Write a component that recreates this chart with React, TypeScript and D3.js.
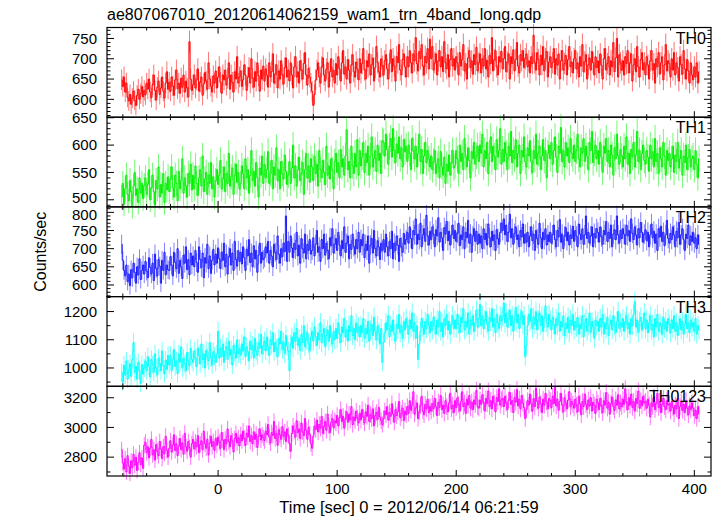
import React from "react";
import * as d3 from "d3";

// time of the first 1-s bin (sec); each following value is the next bin
const T_START = -81;

const TH0 = [
  648, 632, 655, 618, 640, 605, 596, 612, 588, 603, 620, 598, 585, 610, 625, 600, 614, 632, 606, 622,
  611, 640, 625, 650, 618, 604, 636, 660, 622, 598, 630, 645, 612, 628, 655, 620, 603, 640, 668, 625,
  642, 620, 655, 633, 610, 648, 672, 626, 640, 615, 652, 630, 660, 618, 645, 628, 606, 742, 650, 622,
  636, 660, 628, 648, 675, 620, 642, 655, 610, 638, 666, 645, 625, 690, 650, 632, 618, 658, 640, 670,
  628, 655, 680, 642, 615, 660, 648, 672, 635, 652, 690, 625, 660, 642, 618, 668, 650, 705, 640, 655,
  670, 632, 648, 685, 660, 622, 655, 678, 640, 700, 652, 630, 668, 645, 690, 658, 620, 672, 650, 682,
  645, 675, 660, 630, 690, 655, 668, 712, 640, 662, 685, 628, 670, 650, 695, 660, 638, 678, 702, 655,
  672, 645, 690, 660, 628, 680, 705, 655, 668, 640, 695, 672, 650, 688, 715, 660, 635, 676, 655, 640,
  620, 585, 612, 648, 672, 690, 655, 640, 680, 702, 660, 645, 675, 690, 630, 668, 700, 655, 672, 640,
  688, 660, 705, 675, 645, 690, 720, 662, 680, 650, 698, 672, 640, 685, 710, 668, 655, 692, 675, 648,
  700, 665, 688, 725, 672, 650, 695, 680, 712, 660, 685, 702, 645, 678, 730, 690, 668, 655, 700, 682,
  660, 695, 710, 675, 650, 688, 722, 668, 700, 682, 645, 705, 690, 735, 672, 660, 698, 712, 680, 655,
  705, 680, 720, 690, 665, 712, 695, 752, 688, 670, 718, 700, 735, 682, 660, 706, 690, 725, 675, 748,
  700, 730, 672, 690, 712, 660, 695, 720, 680, 705, 668, 742, 690, 675, 710, 655, 698, 725, 682, 700,
  672, 705, 690, 660, 715, 682, 698, 735, 670, 688, 650, 702, 720, 678, 695, 662, 710, 686, 728, 670,
  690, 712, 665, 700, 682, 725, 675, 696, 655, 708, 688, 752, 670, 698, 720, 680, 660, 705, 692, 718,
  675, 700, 730, 668, 692, 712, 650, 705, 688, 722, 670, 698, 740, 682, 665, 710, 695, 720, 678, 700,
  712, 680, 695, 665, 705, 688, 758, 690, 672, 715, 698, 660, 708, 685, 730, 670, 700, 718, 655, 692,
  705, 678, 690, 725, 662, 700, 684, 712, 650, 695, 720, 672, 688, 708, 660, 698, 730, 680, 692, 665,
  700, 720, 675, 690, 655, 705, 682, 735, 668, 692, 710, 650, 685, 702, 672, 718, 690, 660, 705, 678,
  695, 665, 712, 684, 650, 700, 725, 672, 688, 705, 660, 695, 680, 740, 668, 702, 750, 655, 710, 690,
  672, 695, 660, 705, 688, 720, 665, 690, 712, 645, 685, 700, 668, 730, 680, 655, 698, 715, 672, 690,
  660, 705, 685, 650, 695, 720, 672, 688, 640, 700, 680, 715, 662, 690, 705, 648, 685, 735, 670, 695,
  688, 655, 700, 672, 715, 660, 690, 678, 645, 705, 685, 662, 720, 675, 650, 698, 670, 640, 690, 660,
  648, 680, 655, 690, 640, 668,
];

const TH1 = [
  505, 530, 492, 520, 545, 510, 498, 535, 515, 488, 525, 550, 508, 520, 495, 540, 512, 530, 502, 526,
  540, 510, 528, 555, 500, 522, 545, 515, 490, 535, 520, 560, 505, 528, 512, 548, 495, 530, 518, 542,
  515, 538, 560, 522, 505, 545, 530, 498, 552, 520, 535, 575, 512, 540, 525, 505, 548, 530, 565, 518,
  545, 520, 562, 530, 508, 540, 555, 525, 580, 515, 538, 550, 510, 545, 530, 568, 520, 542, 505, 535,
  555, 528, 545, 572, 520, 538, 560, 515, 548, 530, 585, 525, 542, 558, 510, 545, 565, 532, 550, 520,
  530, 562, 548, 520, 575, 540, 555, 512, 545, 590, 535, 552, 525, 568, 540, 505, 558, 545, 580, 530,
  565, 540, 555, 588, 530, 548, 572, 520, 560, 545, 595, 535, 555, 520, 570, 548, 538, 582, 552, 528,
  545, 570, 530, 558, 600, 540, 562, 525, 555, 578, 535, 548, 568, 510, 555, 585, 540, 562, 532, 575,
  560, 535, 580, 548, 565, 525, 590, 555, 540, 572, 550, 528, 598, 545, 562, 538, 575, 555, 520, 570,
  585, 550, 568, 540, 592, 560, 575, 545, 580, 628, 555, 570, 540, 598, 562, 548, 585, 560, 610, 545,
  590, 562, 578, 605, 550, 585, 568, 598, 545, 580, 615, 560, 575, 590, 552, 600, 572, 585, 548, 608,
  605, 580, 620, 592, 565, 598, 612, 578, 630, 590, 568, 602, 585, 615, 575, 595, 560, 610, 588, 598,
  570, 600, 585, 555, 612, 590, 575, 598, 560, 585, 620, 570, 592, 548, 580, 605, 568, 590, 575, 560,
  580, 555, 570, 590, 548, 565, 575, 540, 588, 560, 545, 578, 530, 565, 552, 582, 545, 568, 590, 558,
  562, 590, 575, 548, 600, 570, 585, 555, 612, 578, 560, 595, 572, 540, 588, 575, 605, 565, 580, 598,
  570, 600, 585, 620, 560, 590, 575, 605, 548, 585, 615, 570, 598, 580, 555, 610, 578, 590, 630, 565,
  592, 570, 605, 585, 555, 598, 580, 625, 568, 590, 575, 610, 560, 585, 600, 548, 590, 578, 615, 570,
  560, 595, 580, 608, 570, 550, 590, 575, 620, 565, 585, 598, 555, 580, 610, 572, 590, 540, 585, 600,
  575, 605, 565, 590, 615, 578, 550, 598, 585, 632, 570, 590, 560, 605, 580, 595, 568, 612, 585, 575,
  600, 570, 590, 620, 575, 560, 595, 585, 612, 570, 598, 580, 555, 605, 590, 625, 568, 585, 600, 575,
  590, 565, 605, 578, 550, 598, 585, 612, 570, 590, 560, 600, 582, 545, 595, 575, 620, 580, 565, 592,
  580, 560, 598, 575, 615, 565, 585, 548, 592, 578, 605, 560, 582, 625, 570, 590, 555, 585, 600, 572,
  565, 590, 578, 552, 600, 575, 588, 560, 612, 570, 585, 548, 595, 575, 560, 605, 580, 545, 590, 572,
  585, 560, 575, 598, 550, 582, 570, 605, 558, 575, 590, 545, 580, 568, 600, 555, 578, 592, 560, 575,
  580, 555, 590, 565, 540, 575,
];

const TH2 = [
  712, 668, 640, 625, 655, 610, 630, 598, 642, 620, 660, 635, 605, 650, 628, 672, 615, 640, 655, 630,
  665, 638, 620, 675, 648, 630, 660, 612, 685, 645, 625, 670, 652, 605, 668, 640, 690, 628, 655, 642,
  640, 678, 655, 625, 690, 662, 645, 700, 632, 668, 650, 618, 682, 660, 705, 642, 670, 628, 688, 655,
  680, 650, 695, 662, 635, 705, 670, 648, 688, 620, 675, 660, 712, 645, 680, 632, 668, 698, 655, 685,
  660, 702, 672, 645, 690, 668, 715, 650, 685, 630, 678, 700, 655, 688, 640, 720, 670, 652, 695, 665,
  690, 658, 705, 675, 640, 698, 680, 725, 662, 688, 650, 708, 672, 695, 635, 682, 715, 660, 690, 670,
  675, 705, 688, 720, 660, 695, 680, 650, 712, 690, 670, 735, 685, 660, 700, 678, 715, 692, 790, 665,
  720, 690, 735, 702, 675, 715, 698, 745, 680, 710, 660, 728, 700, 688, 740, 672, 712, 695, 725, 685,
  695, 730, 680, 712, 750, 690, 705, 665, 725, 700, 740, 682, 715, 695, 672, 730, 708, 755, 688, 712,
  728, 695, 745, 710, 680, 722, 700, 760, 690, 715, 735, 672, 712, 698, 740, 705, 685, 725, 700, 745,
  690, 725, 708, 740, 675, 712, 695, 735, 660, 710, 728, 688, 750, 700, 680, 722, 705, 670, 715, 695,
  725, 690, 740, 705, 680, 720, 700, 748, 672, 715, 695, 735, 710, 665, 728, 705, 690, 742, 712, 725,
  745, 715, 760, 728, 700, 750, 738, 782, 712, 740, 725, 770, 705, 738, 755, 720, 792, 735, 710, 748,
  725, 760, 740, 705, 752, 735, 785, 718, 745, 730, 695, 758, 740, 775, 722, 748, 710, 738, 765, 728,
  750, 720, 742, 770, 708, 738, 725, 760, 700, 745, 730, 778, 715, 740, 690, 735, 755, 720, 748, 712,
  740, 715, 735, 700, 755, 725, 742, 710, 768, 730, 705, 748, 722, 738, 695, 752, 728, 712, 745, 770,
  750, 782, 738, 765, 720, 745, 795, 730, 755, 712, 742, 760, 725, 738, 705, 750, 732, 768, 715, 740,
  718, 745, 705, 735, 760, 722, 740, 695, 750, 728, 712, 770, 730, 700, 745, 725, 755, 710, 738, 720,
  745, 715, 738, 765, 725, 705, 750, 732, 780, 718, 740, 700, 735, 758, 722, 745, 710, 738, 728, 762,
  720, 750, 735, 705, 768, 740, 725, 755, 712, 738, 790, 728, 745, 715, 735, 760, 705, 742, 730, 755,
  745, 718, 760, 732, 712, 750, 738, 775, 720, 745, 728, 765, 705, 740, 752, 725, 790, 738, 715, 750,
  728, 755, 740, 712, 765, 735, 750, 720, 782, 742, 725, 760, 738, 710, 755, 730, 772, 745, 718, 740,
  752, 722, 745, 705, 738, 768, 730, 748, 715, 740, 695, 755, 732, 762, 720, 745, 708, 738, 778, 728,
  715, 742, 725, 760, 738, 705, 748, 730, 772, 712, 738, 755, 725, 695, 740, 728, 765, 710, 735, 720,
  745, 715, 730, 700, 738, 712,
];

const TH3 = [
  985, 950, 1010, 975, 1025, 960, 995, 1015, 970, 1030, 1090, 985, 1005, 960, 1020, 990, 945, 1012, 978, 1000,
  1025, 990, 1040, 1005, 968, 1030, 1012, 985, 1050, 1000, 975, 1035, 1015, 990, 1060, 1008, 980, 1028, 995, 1045,
  1010, 1045, 990, 1030, 1065, 1005, 1025, 980, 1050, 1020, 1075, 1000, 1035, 1015, 990, 1055, 1025, 1008, 1070, 1030,
  1020, 1060, 1035, 1005, 1070, 1045, 1015, 1085, 1030, 1050, 1000, 1062, 1040, 1025, 1090, 1035, 1010, 1058, 1042, 1020,
  1050, 1130, 1035, 1070, 1040, 1085, 1020, 1060, 1075, 1030, 1095, 1045, 1065, 1010, 1080, 1055, 1035, 1100, 1050, 1068,
  1045, 1085, 1060, 1110, 1040, 1075, 1058, 1025, 1095, 1065, 1080, 1035, 1105, 1060, 1045, 1090, 1070, 1120, 1050, 1078,
  1095, 1060, 1110, 1075, 1045, 1100, 1082, 1125, 1058, 1090, 1070, 1040, 1105, 1085, 1130, 1065, 1092, 1050, 1115, 1078,
  1060, 990, 1085, 1110, 1070, 1125, 1095, 1140, 1080, 1105, 1062, 1118, 1090, 1150, 1075, 1100, 1125, 1085, 1060, 1110,
  1130, 1095, 1145, 1110, 1080, 1125, 1100, 1160, 1090, 1120, 1140, 1075, 1115, 1135, 1095, 1150, 1108, 1085, 1128, 1100,
  1140, 1105, 1160, 1120, 1090, 1145, 1125, 1175, 1110, 1135, 1095, 1150, 1130, 1185, 1115, 1140, 1100, 1160, 1125, 1145,
  1110, 1150, 1125, 1175, 1105, 1140, 1120, 1165, 1095, 1135, 1155, 1115, 1180, 1130, 1100, 1150, 1125, 1085, 1140, 1020,
  1090, 1125, 1160, 1135, 1185, 1110, 1150, 1130, 1170, 1120, 1095, 1155, 1140, 1190, 1125, 1150, 1105, 1165, 1135, 1175,
  1150, 1120, 1170, 1140, 1195, 1130, 1160, 1105, 1150, 1030, 1085, 1130, 1175, 1145, 1120, 1165, 1140, 1190, 1150, 1125,
  1165, 1135, 1180, 1150, 1120, 1170, 1145, 1200, 1130, 1160, 1110, 1175, 1150, 1190, 1135, 1165, 1120, 1155, 1185, 1140,
  1170, 1140, 1190, 1155, 1125, 1180, 1160, 1210, 1135, 1165, 1145, 1195, 1120, 1170, 1150, 1185, 1130, 1160, 1205, 1145,
  1175, 1225, 1150, 1185, 1140, 1170, 1200, 1155, 1130, 1180, 1165, 1210, 1145, 1175, 1125, 1190, 1160, 1140, 1185, 1165,
  1180, 1230, 1160, 1195, 1145, 1175, 1205, 1150, 1185, 1130, 1170, 1215, 1160, 1190, 1140, 1175, 1200, 1155, 1185, 1040,
  1080, 1150, 1190, 1165, 1210, 1140, 1180, 1155, 1200, 1135, 1170, 1195, 1150, 1185, 1130, 1175, 1220, 1160, 1145, 1190,
  1170, 1135, 1180, 1155, 1120, 1175, 1150, 1195, 1130, 1165, 1145, 1185, 1115, 1160, 1140, 1180, 1125, 1170, 1150, 1190,
  1135, 1165, 1145, 1180, 1120, 1155, 1140, 1185, 1110, 1160, 1175, 1130, 1150, 1195, 1125, 1165, 1145, 1105, 1170, 1150,
  1165, 1130, 1175, 1145, 1190, 1120, 1160, 1140, 1180, 1115, 1155, 1170, 1135, 1185, 1150, 1125, 1165, 1200, 1140, 1160,
  1145, 1175, 1130, 1165, 1185, 1140, 1160, 1120, 1175, 1150, 1190, 1235, 1145, 1170, 1125, 1165, 1180, 1135, 1160, 1195,
  1140, 1170, 1125, 1160, 1185, 1135, 1155, 1110, 1175, 1145, 1190, 1130, 1160, 1150, 1120, 1180, 1140, 1165, 1130, 1175,
  1155, 1125, 1170, 1140, 1185, 1130, 1160, 1115, 1150, 1175, 1135, 1165, 1120, 1155, 1190, 1140, 1160, 1125, 1170, 1145,
  1160, 1130, 1175, 1120, 1150, 1135,
];

const TH0123 = [
  2850, 2760, 2720, 2790, 2700, 2810, 2740, 2690, 2775, 2730, 2820, 2745, 2800, 2710, 2765, 2830, 2750, 2795, 2725, 2880,
  2900, 2830, 2870, 2795, 2860, 2920, 2815, 2850, 2780, 2885, 2840, 2810, 2905, 2855, 2790, 2870, 2825, 2940, 2845, 2800,
  2860, 2910, 2835, 2880, 2950, 2845, 2890, 2810, 2875, 2925, 2850, 2895, 2820, 2960, 2870, 2840, 2905, 2865, 2800, 2890,
  2920, 2855, 2900, 2870, 2945, 2830, 2885, 2910, 2850, 2975, 2890, 2860, 2920, 2815, 2895, 2940, 2870, 2905, 2845, 2925,
  2880, 2935, 2900, 2860, 2965, 2915, 2850, 2920, 2890, 2990, 2905, 2870, 2945, 2910, 2835, 2925, 2960, 2895, 2930, 2875,
  2950, 2910, 2975, 2925, 2880, 2960, 2935, 3010, 2905, 2945, 2890, 2970, 2920, 2955, 2865, 2940, 2990, 2915, 2950, 2930,
  2910, 2975, 2950, 3020, 2935, 2895, 2965, 2945, 3040, 2925, 2960, 2880, 2985, 2950, 2920, 3005, 2940, 2970, 2905, 2990,
  2950, 2890, 2840, 2960, 3010, 2975, 2935, 3045, 2965, 2990, 2925, 3030, 2970, 2945, 3060, 2980, 2920, 3000, 2955, 2890,
  2860, 2940, 3010, 2985, 3050, 2970, 3020, 2995, 3075, 2960, 3005, 3040, 2980, 3090, 3010, 2965, 3035, 3060, 3000, 3045,
  3030, 3080, 3010, 3065, 3120, 3040, 3075, 2995, 3060, 3105, 3035, 3090, 3050, 3140, 3020, 3070, 3045, 3110, 3065, 3030,
  3095, 3050, 3120, 3070, 3030, 3105, 3075, 3150, 3040, 3085, 3060, 3125, 3010, 3080, 3100, 3055, 3135, 3070, 3045, 3020,
  3060, 3110, 3085, 3140, 3050, 3100, 3075, 3160, 3090, 3035, 3120, 3080, 3105, 3175, 3065, 3095, 3130, 3045, 3110, 3085,
  3140, 3095, 3180, 3115, 3150, 3240, 3090, 3130, 3165, 3060, 3105, 3145, 3210, 3110, 3085, 3155, 3125, 3190, 3100, 3140,
  3110, 3160, 3125, 3195, 3140, 3080, 3170, 3135, 3215, 3120, 3150, 3095, 3180, 3140, 3105, 3165, 3230, 3125, 3150, 3100,
  3180, 3135, 3200, 3155, 3110, 3175, 3240, 3140, 3165, 3095, 3190, 3150, 3215, 3130, 3170, 3120, 3185, 3155, 3250, 3140,
  3130, 3185, 3155, 3220, 3170, 3110, 3195, 3160, 3245, 3140, 3180, 3125, 3210, 3165, 3105, 3200, 3175, 3260, 3150, 3185,
  3195, 3140, 3210, 3165, 3120, 3185, 3235, 3155, 3180, 3100, 3200, 3170, 3255, 3145, 3190, 3125, 3215, 3165, 3135, 3060,
  3120, 3180, 3150, 3225, 3160, 3110, 3195, 3140, 3265, 3175, 3130, 3205, 3160, 3100, 3190, 3150, 3230, 3170, 3125, 3195,
  3180, 3135, 3210, 3160, 3270, 3145, 3190, 3115, 3175, 3230, 3150, 3105, 3200, 3165, 3125, 3185, 3240, 3140, 3175, 3155,
  3130, 3190, 3150, 3105, 3210, 3160, 3085, 3175, 3140, 3225, 3155, 3120, 3185, 3145, 3200, 3110, 3170, 3150, 3095, 3190,
  3165, 3120, 3195, 3145, 3100, 3180, 3150, 3235, 3130, 3170, 3090, 3160, 3205, 3140, 3115, 3185, 3150, 3220, 3125, 3165,
  3140, 3190, 3155, 3260, 3170, 3120, 3200, 3150, 3225, 3135, 3175, 3110, 3195, 3160, 3245, 3130, 3180, 3145, 3210, 3165,
  3175, 3130, 3190, 3150, 3070, 3165, 3140, 3205, 3120, 3160, 3230, 3135, 3175, 3100, 3155, 3195, 3140, 3120, 3180, 3150,
  3160, 3110, 3175, 3135, 3090, 3150, 3125, 3195, 3060, 3140, 3170, 3115, 3155, 3100, 3180, 3130, 3085, 3145, 3120, 3165,
  3130, 3080, 3115, 3060, 3140, 3090,
];

const SERIES_NAMES = ["TH0", "TH1", "TH2", "TH3", "TH0123"];
const SERIES_VALUES = [TH0, TH1, TH2, TH3, TH0123];
const SERIES_COLORS = ["#ff0000", "#00f000", "#1a1aff", "#00ffff", "#ff00ff"];

// y-axis: [bottom, top] of each panel, labelled ticks, minor tick step
const Y_DOMAINS: [number, number][] = [
  [556, 777],
  [487, 651],
  [568, 815],
  [935, 1253],
  [2673, 3277],
];
const Y_TICKS = [
  [600, 650, 700, 750],
  [500, 550, 600, 650],
  [600, 650, 700, 750, 800],
  [1000, 1100, 1200],
  [2800, 3000, 3200],
];
const Y_MINOR = [10, 10, 10, 50, 100];

const X_DOMAIN: [number, number] = [-93.3, 414];
const X_TICKS = [0, 100, 200, 300, 400];
const X_MINOR = 20;

const TITLE = "ae807067010_20120614062159_wam1_trn_4band_long.qdp";
const X_LABEL = "Time [sec] 0 = 2012/06/14 06:21:59";
const Y_LABEL = "Counts/sec";

const W = 721;
const H = 516;
const LEFT = 107;
const RIGHT = 711;
const TOP = 27.5;
const BOTTOM = 476;
const FONT = "'Liberation Sans', Arial, Helvetica, sans-serif";

export default function App() {
  const x = d3.scaleLinear().domain(X_DOMAIN).range([LEFT, RIGHT]);
  const panelH = (BOTTOM - TOP) / SERIES_NAMES.length;

  const xMinor = d3.range(-80, 414, X_MINOR).filter((t) => !X_TICKS.includes(t));

  return (
    <svg
      width={W}
      height={H}
      style={{ position: "absolute", left: 0, top: 0, background: "#fff" }}
      fontFamily={FONT}
    >
      <rect x={0} y={0} width={W} height={H} fill="#fff" />
      <text x={LEFT} y={20} fontSize={16} fill="#000">
        {TITLE}
      </text>
      {SERIES_NAMES.map((name, si) => {
        const top = TOP + si * panelH;
        const bot = top + panelH;
        const y = d3.scaleLinear().domain(Y_DOMAINS[si]).range([bot, top]);
        const vals = SERIES_VALUES[si];
        const color = SERIES_COLORS[si];
        const errPath = vals
          .map((v, i) => {
            const e = Math.sqrt(v);
            const px = x(T_START + i);
            return `M${px.toFixed(2)},${y(v - e).toFixed(2)}V${y(v + e).toFixed(2)}`;
          })
          .join("");
        const line = d3
          .line<number>()
          .x((_, i) => x(T_START + i))
          .y((v) => y(v))
          .curve(d3.curveStep);
        const [d0, d1] = Y_DOMAINS[si];
        const yMinor = d3
          .range(Math.ceil(d0 / Y_MINOR[si]) * Y_MINOR[si], d1, Y_MINOR[si])
          .filter((v) => !Y_TICKS[si].includes(v));
        // keep labels sitting on a shared border from colliding with the neighbour panel
        const labelShift = (v: number) => {
          const py = y(v);
          if (bot - py < 8) return -2.4;
          if (py - top < 8 && si > 0) {
            const prevTicks = Y_TICKS[si - 1];
            const prevDom = Y_DOMAINS[si - 1];
            const prevY = d3.scaleLinear().domain(prevDom).range([top, top - panelH]);
            const near = prevTicks.some((t) => Math.abs(prevY(t) - py) < 16);
            return near ? 2.4 : 0;
          }
          return 0;
        };
        return (
          <g key={name}>
            <path d={errPath} stroke={color} strokeOpacity={0.55} strokeWidth={1} fill="none" />
            <path d={line(vals) || ""} stroke={color} strokeWidth={1} fill="none" />
            <rect
              x={LEFT}
              y={top}
              width={RIGHT - LEFT}
              height={panelH}
              fill="none"
              stroke="#000"
              strokeWidth={1.2}
            />
            {X_TICKS.map((t) => (
              <g key={"xt" + t}>
                <line x1={x(t)} x2={x(t)} y1={top} y2={top + 6} stroke="#000" />
                <line x1={x(t)} x2={x(t)} y1={bot} y2={bot - 6} stroke="#000" />
              </g>
            ))}
            {xMinor.map((t) => (
              <g key={"xm" + t}>
                <line x1={x(t)} x2={x(t)} y1={top} y2={top + 3} stroke="#000" />
                <line x1={x(t)} x2={x(t)} y1={bot} y2={bot - 3} stroke="#000" />
              </g>
            ))}
            {Y_TICKS[si].map((v) => (
              <g key={"yt" + v}>
                <line x1={LEFT} x2={LEFT + 7} y1={y(v)} y2={y(v)} stroke="#000" />
                <line x1={RIGHT} x2={RIGHT - 7} y1={y(v)} y2={y(v)} stroke="#000" />
                <text
                  x={97}
                  y={y(v) + labelShift(v)}
                  dy="0.35em"
                  textAnchor="end"
                  fontSize={15}
                  fill="#000"
                >
                  {v}
                </text>
              </g>
            ))}
            {yMinor.map((v) => (
              <g key={"ym" + v}>
                <line x1={LEFT} x2={LEFT + 3.5} y1={y(v)} y2={y(v)} stroke="#000" />
                <line x1={RIGHT} x2={RIGHT - 3.5} y1={y(v)} y2={y(v)} stroke="#000" />
              </g>
            ))}
            <text x={706} y={top + 16} textAnchor="end" fontSize={16} fill="#000">
              {name}
            </text>
          </g>
        );
      })}
      {X_TICKS.map((t) => (
        <text key={"xl" + t} x={x(t)} y={494} textAnchor="middle" fontSize={15} fill="#000">
          {t}
        </text>
      ))}
      <text x={(LEFT + RIGHT) / 2} y={512.5} textAnchor="middle" fontSize={16.5} fill="#000">
        {X_LABEL}
      </text>
      <text
        transform={`translate(46,${(TOP + BOTTOM) / 2}) rotate(-90)`}
        textAnchor="middle"
        fontSize={16}
        fill="#000"
      >
        {Y_LABEL}
      </text>
    </svg>
  );
}
